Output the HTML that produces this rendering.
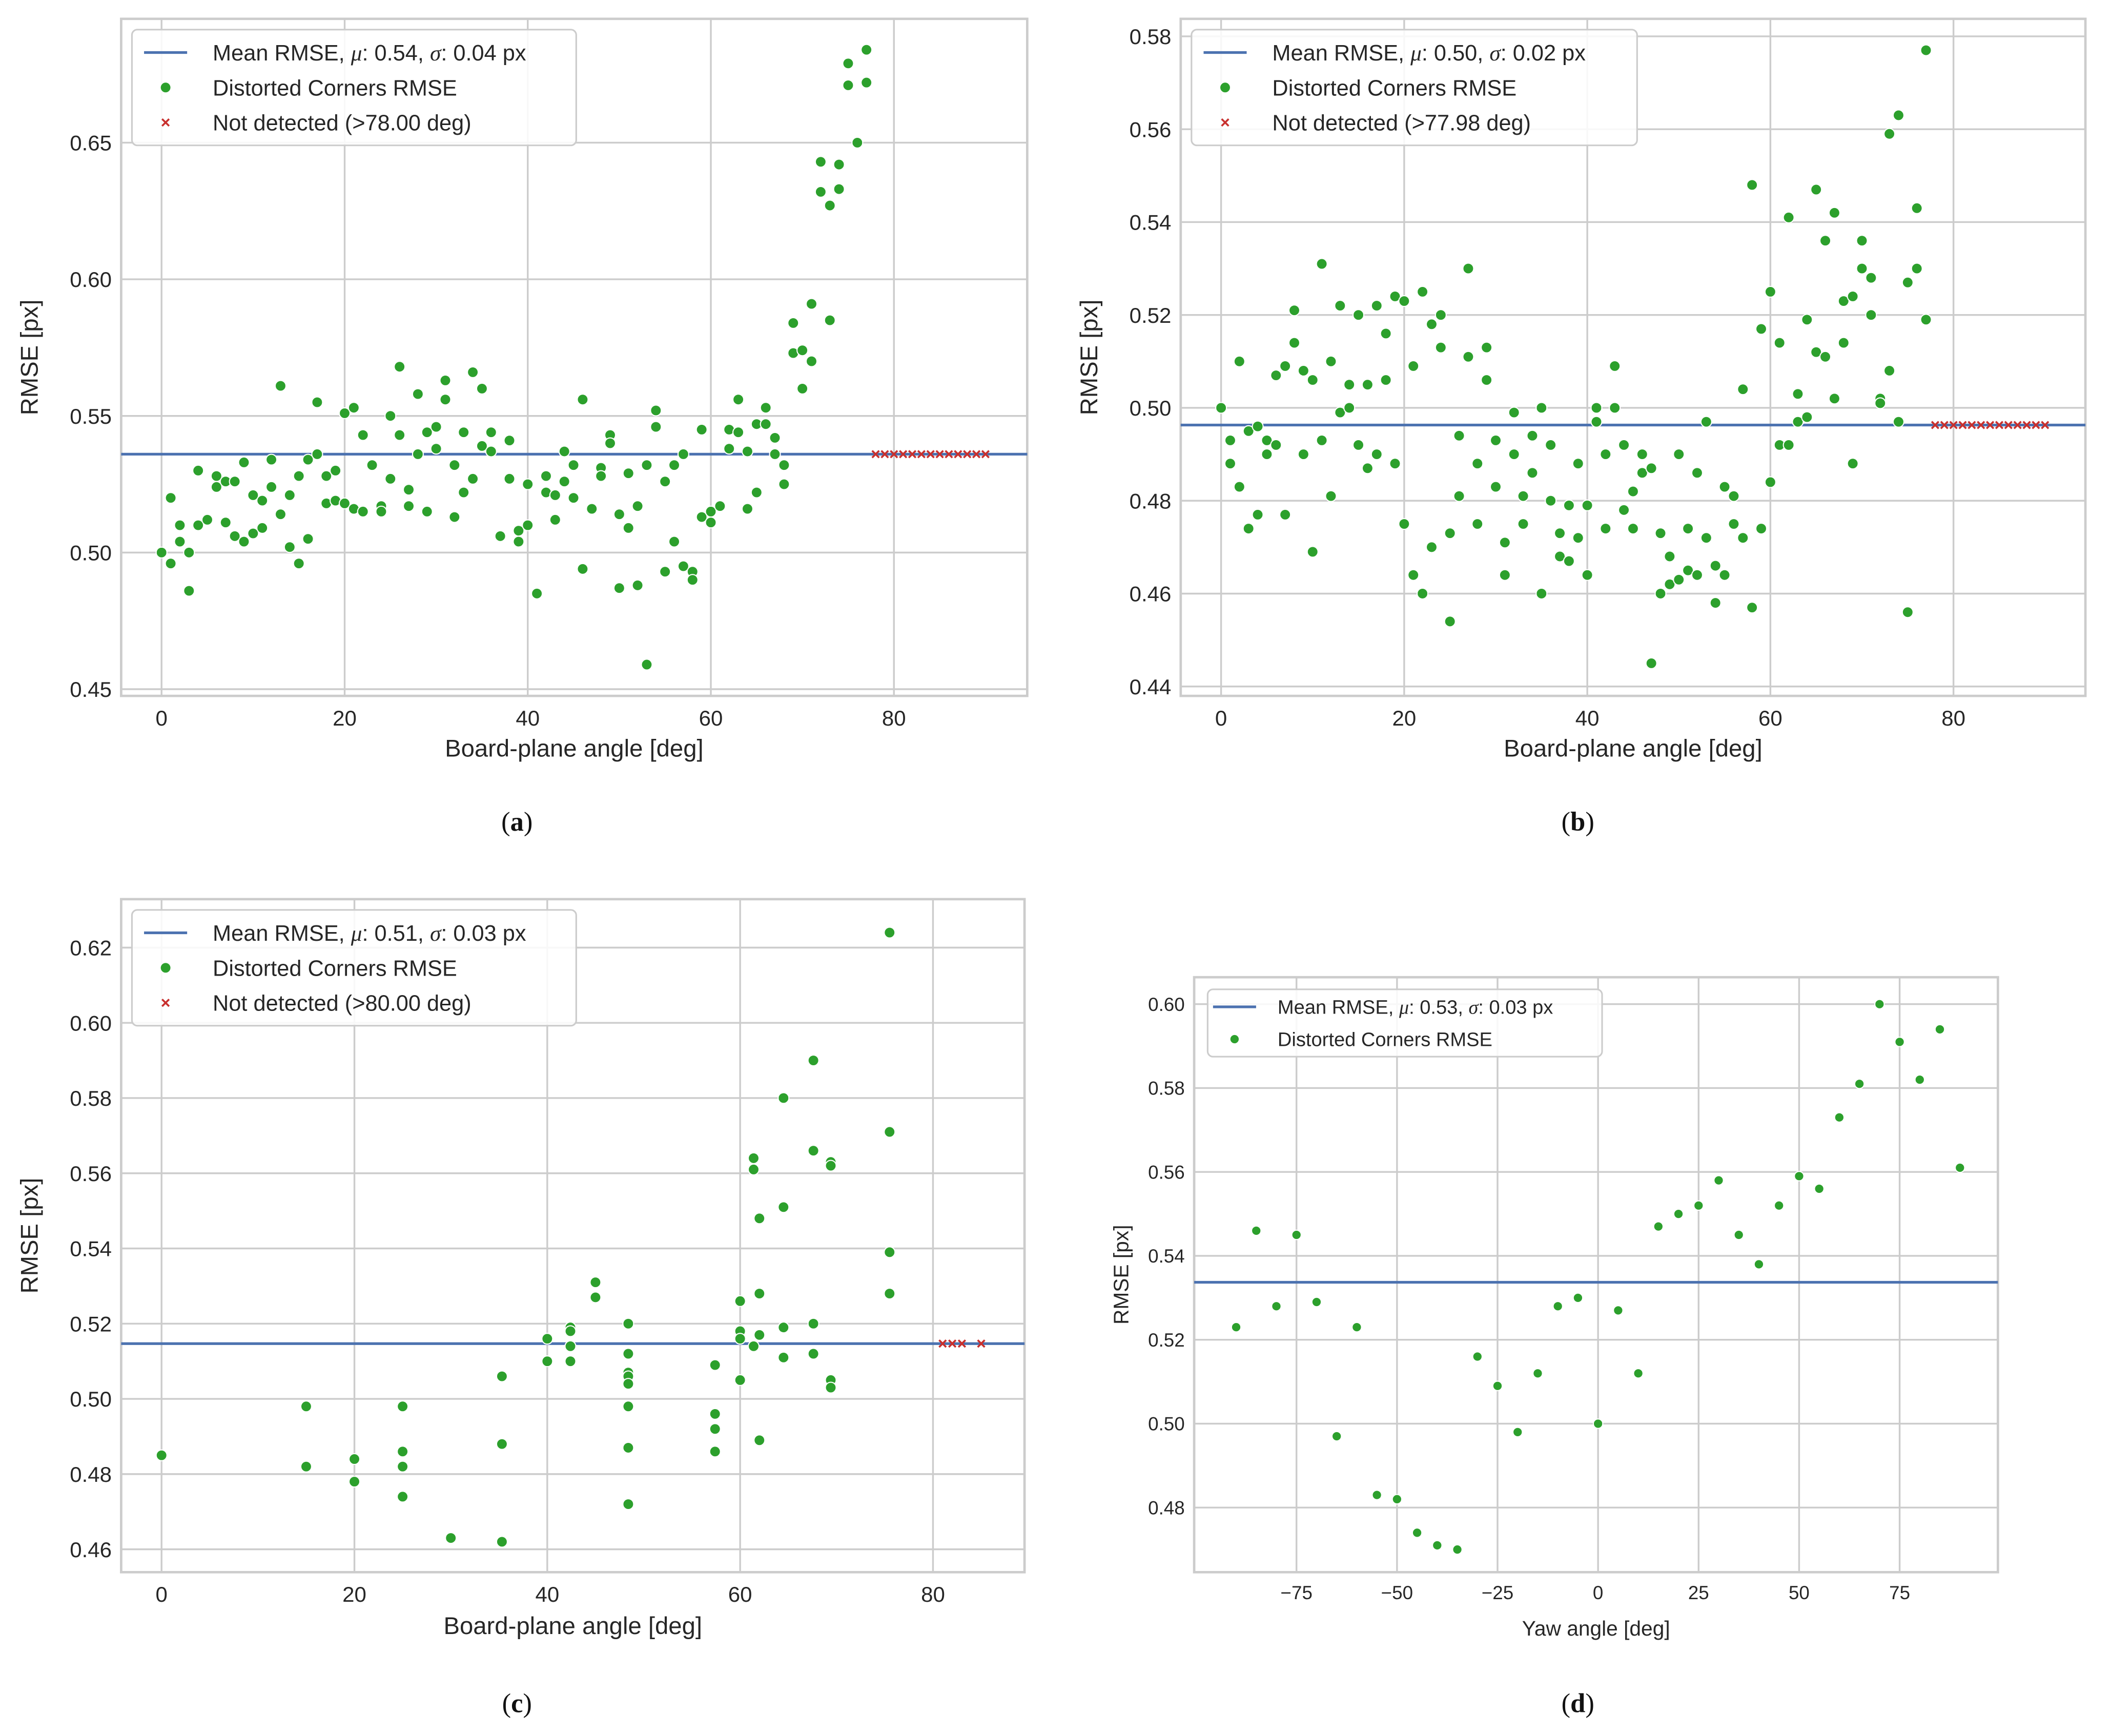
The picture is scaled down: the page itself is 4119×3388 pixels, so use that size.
<!DOCTYPE html>
<html><head><meta charset="utf-8">
<style>
html,body{margin:0;padding:0;background:#fff;}
svg{display:block;font-family:"Liberation Sans",Arial,sans-serif;}
</style></head>
<body>
<svg id="fig" width="4119" height="3388" viewBox="0 0 1568 1289.7" preserveAspectRatio="none" xmlns="http://www.w3.org/2000/svg"></svg>
<script>
// ---------- data ----------
const aAngles=[0,1,1,2,2,3,3,4,4,5,6,6,7,7,8,8,9,9,10,10,11,11,12,12,13,13,14,14,15,15,16,16,17,17,18,18,19,19,20,20,21,21,22,22,23,24,24,25,25,26,26,27,27,28,28,29,29,30,30,31,31,32,32,33,33,34,34,35,35,36,36,37,38,38,39,39,40,40,41,42,42,43,43,44,44,45,45,46,46,47,48,48,49,49,50,50,51,51,52,52,53,53,54,54,55,55,56,56,57,57,58,58,59,59,60,60,61,62,62,63,63,64,64,65,65,66,66,67,67,68,68,69,69,70,70,71,71,72,72,73,73,74,74,75,75,76,77,77];
const aRmse=[0.500,0.496,0.520,0.510,0.504,0.500,0.486,0.530,0.510,0.512,0.528,0.524,0.526,0.511,0.526,0.506,0.533,0.504,0.521,0.507,0.519,0.509,0.534,0.524,0.561,0.514,0.521,0.502,0.528,0.496,0.534,0.505,0.555,0.536,0.528,0.518,0.530,0.519,0.551,0.518,0.553,0.516,0.543,0.515,0.532,0.517,0.515,0.550,0.527,0.568,0.543,0.523,0.517,0.558,0.536,0.544,0.515,0.546,0.538,0.563,0.556,0.532,0.513,0.544,0.522,0.566,0.527,0.560,0.539,0.544,0.537,0.506,0.541,0.527,0.508,0.504,0.525,0.510,0.485,0.528,0.522,0.512,0.521,0.537,0.526,0.532,0.520,0.556,0.494,0.516,0.531,0.528,0.543,0.540,0.514,0.487,0.529,0.509,0.517,0.488,0.532,0.459,0.552,0.546,0.526,0.493,0.532,0.504,0.536,0.495,0.493,0.490,0.545,0.513,0.515,0.511,0.517,0.545,0.538,0.556,0.544,0.537,0.516,0.547,0.522,0.553,0.547,0.542,0.536,0.532,0.525,0.584,0.573,0.574,0.560,0.591,0.570,0.643,0.632,0.627,0.585,0.642,0.633,0.679,0.671,0.650,0.684,0.672];
const aMiss=[78,79,80,81,82,83,84,85,86,87,88,89,90];
const aMean=0.536;

const bAngles=[0,1,1,2,2,3,3,4,4,5,5,6,6,7,7,8,8,9,9,10,10,11,11,12,12,13,13,14,14,15,15,16,16,17,17,18,18,19,19,20,20,21,21,22,22,23,23,24,24,25,25,26,26,27,27,28,28,29,29,30,30,31,31,32,32,33,33,34,34,35,35,36,36,37,37,38,38,39,39,40,40,41,41,42,42,43,43,44,44,45,45,46,46,47,47,48,48,49,49,50,50,51,51,52,52,53,53,54,54,55,55,56,56,57,57,58,58,59,59,60,60,61,61,62,62,63,63,64,64,65,65,66,66,67,67,68,68,69,69,70,70,71,71,72,72,73,73,74,74,75,75,76,76,77,77];
const bRmse=[0.500,0.493,0.488,0.510,0.483,0.495,0.474,0.496,0.477,0.493,0.490,0.507,0.492,0.509,0.477,0.521,0.514,0.508,0.490,0.506,0.469,0.531,0.493,0.510,0.481,0.522,0.499,0.505,0.500,0.520,0.492,0.505,0.487,0.522,0.490,0.516,0.506,0.524,0.488,0.523,0.475,0.509,0.464,0.525,0.460,0.518,0.470,0.520,0.513,0.473,0.454,0.494,0.481,0.530,0.511,0.488,0.475,0.513,0.506,0.493,0.483,0.471,0.464,0.499,0.490,0.481,0.475,0.494,0.486,0.500,0.460,0.492,0.480,0.473,0.468,0.479,0.467,0.488,0.472,0.479,0.464,0.500,0.497,0.490,0.474,0.509,0.500,0.492,0.478,0.482,0.474,0.490,0.486,0.487,0.445,0.473,0.460,0.468,0.462,0.490,0.463,0.474,0.465,0.486,0.464,0.497,0.472,0.466,0.458,0.483,0.464,0.475,0.481,0.504,0.472,0.548,0.457,0.517,0.474,0.525,0.484,0.514,0.492,0.541,0.492,0.503,0.497,0.519,0.498,0.547,0.512,0.536,0.511,0.542,0.502,0.523,0.514,0.524,0.488,0.536,0.530,0.528,0.520,0.502,0.501,0.559,0.508,0.563,0.497,0.527,0.456,0.543,0.530,0.577,0.519];
const bMiss=[78,79,80,81,82,83,84,85,86,87,88,89,90];
const bMean=0.4963;

const cAngles=[0,15,15,20,20,25,25,25,25,30,30,35.3,35.3,35.3,40,40,42.4,42.4,42.4,42.4,45,45,48.4,48.4,48.4,48.4,48.4,48.4,48.4,48.4,57.4,57.4,57.4,57.4,60,60,60,60,61.4,61.4,61.4,62,62,62,62,64.5,64.5,64.5,64.5,67.6,67.6,67.6,67.6,69.4,69.4,69.4,69.4,75.5,75.5,75.5,75.5];
const cRmse=[0.485,0.498,0.482,0.484,0.478,0.498,0.486,0.482,0.474,0.463,0.463,0.506,0.488,0.462,0.516,0.510,0.519,0.518,0.514,0.510,0.531,0.527,0.520,0.512,0.507,0.506,0.504,0.498,0.487,0.472,0.509,0.496,0.492,0.486,0.526,0.518,0.516,0.505,0.564,0.561,0.514,0.548,0.528,0.517,0.489,0.580,0.551,0.519,0.511,0.590,0.566,0.520,0.512,0.563,0.562,0.505,0.503,0.624,0.571,0.539,0.528];
const cMiss=[81,82,83,85];
const cMean=0.5147;

const dYaw=[-90,-85,-80,-75,-70,-65,-60,-55,-50,-45,-40,-35,-30,-25,-20,-15,-10,-5,0,5,10,15,20,25,30,35,40,45,50,55,60,65,70,75,80,85,90];
const dRmse=[0.523,0.546,0.528,0.545,0.529,0.497,0.523,0.483,0.482,0.474,0.471,0.470,0.516,0.509,0.498,0.512,0.528,0.530,0.500,0.527,0.512,0.547,0.550,0.552,0.558,0.545,0.538,0.552,0.559,0.556,0.573,0.581,0.600,0.591,0.582,0.594,0.561];
const dMean=0.5337;

const aXTicks=[0,20,40,60,80], aYTicks=[0.45,0.50,0.55,0.60,0.65];
const bXTicks=[0,20,40,60,80], bYTicks=[0.44,0.46,0.48,0.50,0.52,0.54,0.56,0.58];
const cXTicks=[0,20,40,60,80], cYTicks=[0.46,0.48,0.50,0.52,0.54,0.56,0.58,0.60,0.62];
const dXTicks=[-75,-50,-25,0,25,50,75], dYTicks=[0.48,0.50,0.52,0.54,0.56,0.58,0.60];
const aMeanLabel=["0.54","0.04"], bMeanLabel=["0.50","0.02"], cMeanLabel=["0.51","0.03"], dMeanLabel=["0.53","0.03"];

// ---------- drawing ----------
const NS="http://www.w3.org/2000/svg";
const svg=document.getElementById('fig');
function mk(tag,attrs,parent){const e=document.createElementNS(NS,tag);for(const k in attrs)e.setAttribute(k,attrs[k]);(parent||svg).appendChild(e);return e;}
function lin(d0,d1,p0,p1){return v=>p0+(v-d0)*(p1-p0)/(d1-d0);}
const XCOL='#c8302e';

function panel(cfg){
  const g=mk('g',{});
  
  
  const X=lin(cfg.xr[0],cfg.xr[1],cfg.xp[0],cfg.xp[1]);
  const Y=lin(cfg.yr[0],cfg.yr[1],cfg.yp[0],cfg.yp[1]);
  const [L,T,R,B]=cfg.box;
  const fs=cfg.fs;
  cfg.xticks.forEach(t=>{
    const gl=mk('line',{x1:X(t),x2:X(t),y1:T,y2:B,stroke:'#cccccc','stroke-width':1.3},g);
    
    
    const tl=mk('text',{x:X(t),y:B+fs+6,'font-size':fs,fill:'#262626','text-anchor':'middle'},g);
    tl.textContent=(t<0?'\u2212'+Math.abs(t):t);
    
    
  });
  cfg.yticks.forEach(t=>{
    const gl=mk('line',{x1:L,x2:R,y1:Y(t),y2:Y(t),stroke:'#cccccc','stroke-width':1.3},g);
    
    
    const tl=mk('text',{x:L-7,y:Y(t)+fs*0.36,'font-size':fs,fill:'#262626','text-anchor':'end'},g);
    tl.textContent=t.toFixed(2);
    
    
  });
  const fr=mk('rect',{x:L,y:T,width:R-L,height:B-T,fill:'none',stroke:'#cccccc','stroke-width':1.8},g);
  
  
  const ml=mk('line',{x1:L,x2:R,y1:Y(cfg.mean),y2:Y(cfg.mean),stroke:'#4c72b0','stroke-width':2},g);
  
  
  cfg.xs.forEach((x,i)=>{
    const c=mk('circle',{cx:X(x),cy:Y(cfg.ys[i]),r:cfg.r,fill:'#2ca02c',stroke:'#ffffff','stroke-width':0.8},g);
    
    
  });
  (cfg.miss||[]).forEach(x=>{
    const cx=X(x),cy=Y(cfg.mean),s=2.6;
    const p=mk('path',{d:`M${cx-s},${cy-s}L${cx+s},${cy+s}M${cx-s},${cy+s}L${cx+s},${cy-s}`,stroke:XCOL,'stroke-width':1.4},g);
    
    
  });
  const xl=mk('text',{x:(L+R)/2,y:cfg.xlabY,'font-size':cfg.lfs,fill:'#262626','text-anchor':'middle'},g);
  xl.textContent=cfg.xlabel;
  
  
  const yl=mk('text',{x:0,y:0,'font-size':cfg.lfs,fill:'#262626','text-anchor':'middle',transform:`translate(${cfg.ylabX},${(T+B)/2}) rotate(-90)`},g);
  yl.textContent='RMSE [px]';
  
  
  const lg=cfg.leg;
  const lgG=mk('g',{},g);
  
  
  mk('rect',{x:lg.x,y:lg.y,width:lg.w,height:lg.h,rx:4,fill:'#ffffff','fill-opacity':0.85,stroke:'#cccccc','stroke-width':1.2},lgG);
  const rows=[];
  rows.push(['line','Mean RMSE, ']);
  rows.push(['dot','Distorted Corners RMSE']);
  if(cfg.missLabel) rows.push(['x',cfg.missLabel]);
  rows.forEach((r,i)=>{
    const cy=lg.y+lg.first+i*lg.dy;
    const mx=lg.x+lg.mx;
    const ent=mk('g',{},lgG);
    
    
    if(r[0]==='line') mk('line',{x1:mx-16,x2:mx+16,y1:cy,y2:cy,stroke:'#4c72b0','stroke-width':2},ent);
    else if(r[0]==='dot') mk('circle',{cx:mx,cy:cy,r:cfg.r,fill:'#2ca02c',stroke:'#fff','stroke-width':0.8},ent);
    else mk('path',{d:`M${mx-2.6},${cy-2.6}L${mx+2.6},${cy+2.6}M${mx-2.6},${cy+2.6}L${mx+2.6},${cy-2.6}`,stroke:XCOL,'stroke-width':1.4},ent);
    const t=mk('text',{x:lg.x+lg.tx,y:cy+lg.fs*0.36,'font-size':lg.fs,fill:'#262626'},ent);
    if(r[0]==='line'){
      t.appendChild(document.createTextNode('Mean RMSE, '));
      const s1=mk('tspan',{'font-style':'italic','font-family':'"Liberation Serif",serif'},t);s1.textContent='\u03bc';
      t.appendChild(document.createTextNode(': '+cfg.meanLabel[0]+', '));
      const s2=mk('tspan',{'font-style':'italic','font-family':'"Liberation Serif",serif'},t);s2.textContent='\u03c3';
      t.appendChild(document.createTextNode(': '+cfg.meanLabel[1]+' px'));
    } else t.textContent=r[1];
  });
  const cap=mk('text',{x:cfg.capX,y:cfg.capY,'font-size':20,fill:'#111','text-anchor':'middle','font-family':'"Liberation Serif",serif'},g);
  cap.appendChild(document.createTextNode('('));
  const bt=mk('tspan',{'font-weight':'bold'},cap);bt.textContent=cfg.cap;
  cap.appendChild(document.createTextNode(')'));
  
  
}

panel({name:'panel-a',box:[90,14,763,517],xr:[0,80],xp:[120,664],yr:[0.45,0.65],yp:[512,106],
  xticks:aXTicks,yticks:aYTicks,xs:aAngles,ys:aRmse,miss:aMiss,mean:aMean,meanLabel:aMeanLabel,
  missLabel:'Not detected (>78.00 deg)',fs:16,lfs:18,r:4,xlabel:'Board-plane angle [deg]',xlabY:562,ylabX:28,
  leg:{x:98,y:22,w:330,h:86,first:17,dy:26,mx:25,tx:60,fs:16.5},cap:'a',capX:384,capY:617});
panel({name:'panel-b',box:[877,14,1549,517],xr:[0,80],xp:[907,1451],yr:[0.44,0.58],yp:[510,27],
  xticks:bXTicks,yticks:bYTicks,xs:bAngles,ys:bRmse,miss:bMiss,mean:bMean,meanLabel:bMeanLabel,
  missLabel:'Not detected (>77.98 deg)',fs:16,lfs:18,r:4,xlabel:'Board-plane angle [deg]',xlabY:562,ylabX:815,
  leg:{x:885,y:22,w:331,h:86,first:17,dy:26,mx:25,tx:60,fs:16.5},cap:'b',capX:1172,capY:617});
panel({name:'panel-c',box:[90,668,761,1168],xr:[0,80],xp:[120,693],yr:[0.46,0.62],yp:[1151,704],
  xticks:cXTicks,yticks:cYTicks,xs:cAngles,ys:cRmse,miss:cMiss,mean:cMean,meanLabel:cMeanLabel,
  missLabel:'Not detected (>80.00 deg)',fs:16,lfs:18,r:4,xlabel:'Board-plane angle [deg]',xlabY:1214,ylabX:28,
  leg:{x:98,y:676,w:330,h:86,first:17,dy:26,mx:25,tx:60,fs:16.5},cap:'c',capX:384,capY:1272});
panel({name:'panel-d',box:[887,726,1484,1168],xr:[-75,75],xp:[963,1411],yr:[0.48,0.60],yp:[1120,746],
  xticks:dXTicks,yticks:dYTicks,xs:dYaw,ys:dRmse,miss:[],mean:dMean,meanLabel:dMeanLabel,
  missLabel:null,fs:14,lfs:15.5,r:3.5,xlabel:'Yaw angle [deg]',xlabY:1215,ylabX:838,
  leg:{x:897,y:735,w:293,h:50,first:13,dy:24,mx:20,tx:52,fs:14.5},cap:'d',capX:1172,capY:1272});
</script>
</body></html>
